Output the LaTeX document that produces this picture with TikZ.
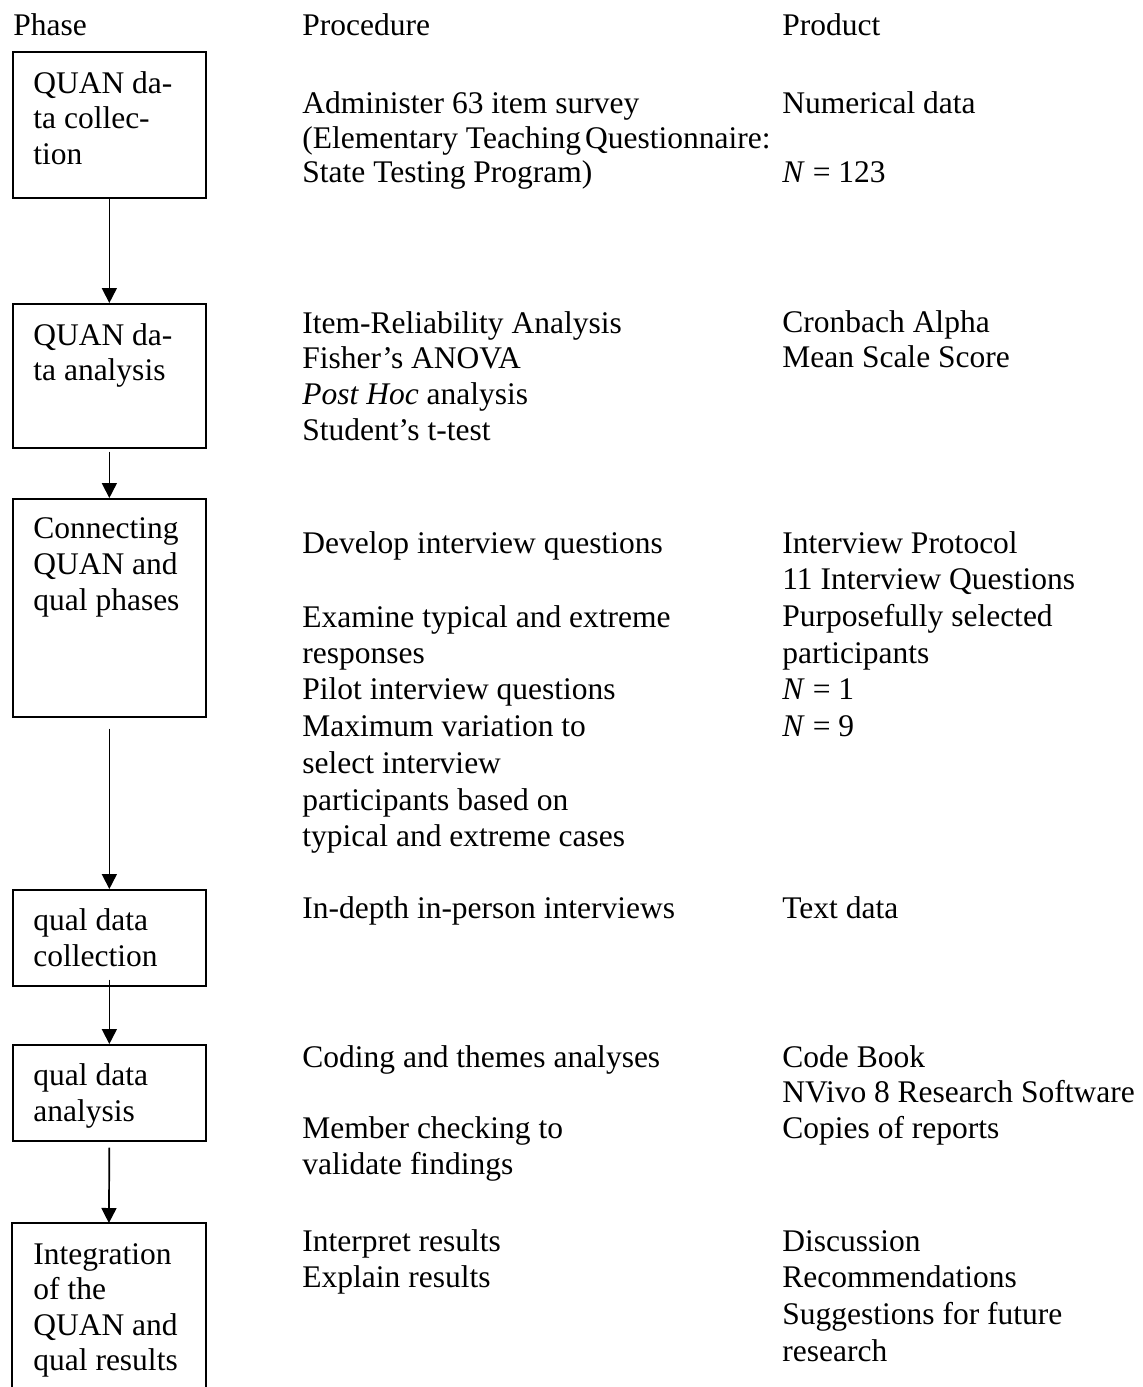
\documentclass[tikz,border=0pt]{standalone}
\usepackage{fontspec}
\setmainfont{Liberation Serif}
\usetikzlibrary{arrows.meta}
\begin{document}
\begin{tikzpicture}[x=0.5pt,y=-0.5pt,
  txt/.style={anchor=base west,inner sep=0pt,font=\fontsize{15.75}{18}\selectfont},
  phasebox/.style={draw,line width=0.85pt,anchor=north west,inner sep=0pt,minimum width=96.5pt},
  openbox/.style={anchor=north west,inner sep=0pt,minimum width=96.5pt},
  arr/.style={line width=0.85pt,-{Triangle[width=7.5pt,length=7.5pt]}}]
\useasboundingbox (0,0) rectangle (1143,1387);

% headers
\node[txt] (hphase) at (13,35) {Phase};
\node[txt] (hproc) at (302,35) {Procedure};
\node[txt] (hprod) at (782,35) {Product};

% phase boxes
\node[phasebox,minimum height=73pt] (b1) at (12,51) {};
\node[phasebox,minimum height=72pt] (b2) at (12,303) {};
\node[phasebox,minimum height=109pt] (b3) at (12,498) {};
\node[phasebox,minimum height=48pt] (b4) at (12,889) {};
\node[phasebox,minimum height=48pt] (b5) at (12,1044) {};
\node[openbox,minimum height=90pt] (b6) at (12,1223) {};
\draw[line width=0.85pt] (b6.south west) -- (b6.north west) -- (b6.north east) -- (b6.south east);

% arrows
\draw[arr] (b1.south) -- (b2.north);
\draw[arr] ([yshift=-1.5pt]b2.south) -- (b3.north);
\draw[arr] ([yshift=-5.5pt]b3.south) -- (b4.north);
\draw[arr] ([yshift=3.5pt]b4.south) -- (b5.north);
\draw[arr] ([yshift=-3pt]b5.south) -- (b6.north);

% phase box texts
\node[txt] (b1a) at (33,93) {QUAN da-};
\node[txt] (b1b) at (33,128) {ta collec-};
\node[txt] (b1c) at (33,164) {tion};
\node[txt] (b2a) at (33,345) {QUAN da-};
\node[txt] (b2b) at (33,380) {ta analysis};
\node[txt] (b3a) at (33,538) {Connecting};
\node[txt] (b3b) at (33,574) {QUAN and};
\node[txt] (b3c) at (33,610) {qual phases};
\node[txt] (b4a) at (33,930) {qual data};
\node[txt] (b4b) at (33,966) {collection};
\node[txt] (b5a) at (33,1085) {qual data};
\node[txt] (b5b) at (33,1121) {analysis};
\node[txt] (b6a) at (33,1264) {Integration};
\node[txt] (b6b) at (33,1299) {of the};
\node[txt] (b6c) at (33,1335) {QUAN and};
\node[txt] (b6d) at (33,1370) {qual results};

% procedure column
\node[txt] (p1a) at (302,113) {Administer 63 item survey};
\node[txt] (p1b) at (302,148) {(Elementary Teaching\hspace{-0.12em} Questionnaire:};
\node[txt] (p1c) at (302,182) {State Testing Program)};
\node[txt] (p2a) at (302,333) {Item-Reliability Analysis};
\node[txt] (p2b) at (302,368) {Fisher’s ANOVA};
\node[txt] (p2c) at (302,404) {\textit{Post Hoc} analysis};
\node[txt] (p2d) at (302,440) {Student’s t-test};
\node[txt] (p3a) at (302,553) {Develop interview questions};
\node[txt] (p3b) at (302,627) {Examine typical and extreme};
\node[txt] (p3c) at (302,663) {responses};
\node[txt] (p3d) at (302,699) {Pilot interview questions};
\node[txt] (p3e) at (302,736) {Maximum variation to};
\node[txt] (p3f) at (302,773) {select interview};
\node[txt] (p3g) at (302,810) {participants based on};
\node[txt] (p3h) at (302,846) {typical and extreme cases};
\node[txt] (p4a) at (302,918) {In-depth in-person interviews};
\node[txt] (p5a) at (302,1067) {Coding and themes analyses};
\node[txt] (p5b) at (302,1138) {Member checking to};
\node[txt] (p5c) at (302,1174) {validate findings};
\node[txt] (p6a) at (302,1251) {Interpret results};
\node[txt] (p6b) at (302,1287) {Explain results};

% product column
\node[txt] (r1a) at (782,113) {Numerical data};
\node[txt] (r1b) at (782,182) {\textit{N} = 123};
\node[txt] (r2a) at (782,332) {Cronbach Alpha};
\node[txt] (r2b) at (782,367) {Mean Scale Score};
\node[txt] (r3a) at (782,553) {Interview Protocol};
\node[txt] (r3b) at (782,589) {11 Interview Questions};
\node[txt] (r3c) at (782,626) {Purposefully selected};
\node[txt] (r3d) at (782,663) {participants};
\node[txt] (r3e) at (782,699) {\textit{N} = 1};
\node[txt] (r3f) at (782,736) {\textit{N} = 9};
\node[txt] (r4a) at (782,918) {Text data};
\node[txt] (r5a) at (782,1067) {Code Book};
\node[txt] (r5b) at (782,1102) {NVivo 8 Research Software};
\node[txt] (r5c) at (782,1138) {Copies of reports};
\node[txt] (r6a) at (782,1251) {Discussion};
\node[txt] (r6b) at (782,1287) {Recommendations};
\node[txt] (r6c) at (782,1324) {Suggestions for future};
\node[txt] (r6d) at (782,1361) {research};
\end{tikzpicture}
\end{document}
